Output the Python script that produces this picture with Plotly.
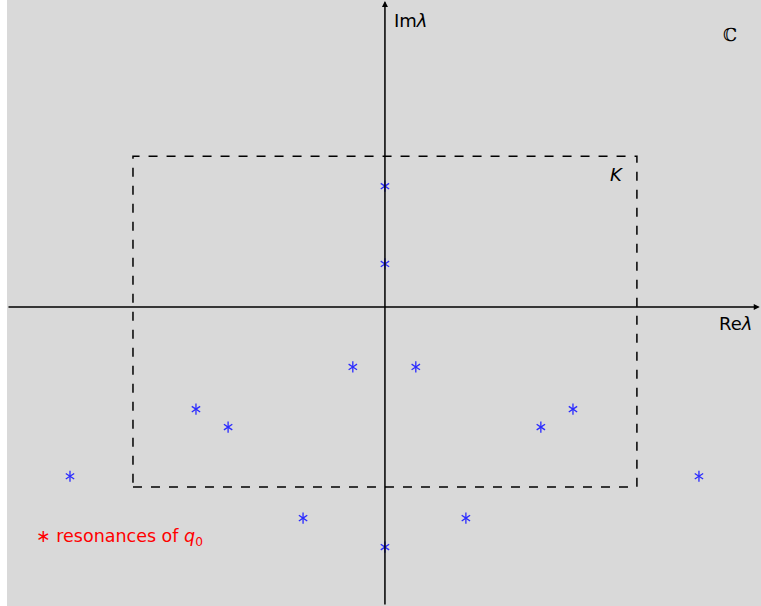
import plotly.graph_objects as go

# Resonances in the complex plane (Re, Im)
res_re = [0.0, 0.0, -1.02, 0.98, -6.0, -4.98, 5.97, 4.95, -10.0, 9.97, -2.6, 2.57, 0.0]
res_im = [3.84, 1.37, -1.90, -1.90, -3.24, -3.81, -3.24, -3.81, -5.37, -5.37, -6.70, -6.70, -7.62]

# Compact region K
k_re = [-8.0, 8.0]
k_im = [-5.71, 4.79]

x_range = [-12.0, 11.94]
y_range = [-9.49, 9.75]

BLUE = "#2b2bff"
BG = "#d9d9d9"

fig = go.Figure()

# six-armed asterisk built from two three-armed marks
for sym in ["y-up-open", "y-down-open"]:
    fig.add_trace(go.Scatter(
        x=res_re, y=res_im, mode="markers",
        marker=dict(symbol=sym, size=7, line=dict(color=BLUE, width=1.3), color=BLUE),
        hoverinfo="skip", showlegend=False,
    ))

# dashed rectangle K
fig.add_shape(type="rect", x0=k_re[0], x1=k_re[1], y0=k_im[0], y1=k_im[1],
              xref="x", yref="y", line=dict(color="black", width=1.5, dash="dash"))

# coordinate axes with arrowheads
fig.add_annotation(x=11.9, y=0, ax=x_range[0], ay=0, xref="x", yref="y",
                   axref="x", ayref="y", showarrow=True, arrowhead=2, arrowsize=0.8,
                   arrowwidth=1.5, arrowcolor="black", text="")
fig.add_annotation(x=0, y=9.72, ax=0, ay=y_range[0], xref="x", yref="y",
                   axref="x", ayref="y", showarrow=True, arrowhead=2, arrowsize=0.8,
                   arrowwidth=1.5, arrowcolor="black", text="")

font = dict(family="DejaVu Sans", size=18, color="black")
fig.add_annotation(x=0.22, y=9.1, text="Im<i>λ</i>", showarrow=False,
                   xanchor="left", yanchor="middle", font=font)
fig.add_annotation(x=11.73, y=-0.52, text="Re<i>λ</i>", showarrow=False,
                   xanchor="right", yanchor="middle", font=font)
fig.add_annotation(x=10.95, y=8.65, text="ℂ", showarrow=False,
                   xanchor="center", yanchor="middle",
                   font=dict(family="DejaVu Serif", size=18, color="black"))
fig.add_annotation(x=7.35, y=4.2, text="<i>K</i>", showarrow=False,
                   xanchor="center", yanchor="middle",
                   font=dict(family="DejaVu Sans", size=18, color="black"))
fig.add_annotation(x=-11.15, y=-7.3, text="∗ resonances of <i>q</i><sub>0</sub>",
                   showarrow=False, xanchor="left", yanchor="middle",
                   font=dict(family="DejaVu Sans", size=17.5, color="red"))

fig.update_xaxes(range=x_range, visible=False, fixedrange=True)
fig.update_yaxes(range=y_range, visible=False, fixedrange=True)
fig.update_layout(
    width=761, height=606,
    margin=dict(l=7, r=0, t=0, b=0),
    paper_bgcolor="white", plot_bgcolor=BG,
    showlegend=False,
)

fig.write_html("out.html")
